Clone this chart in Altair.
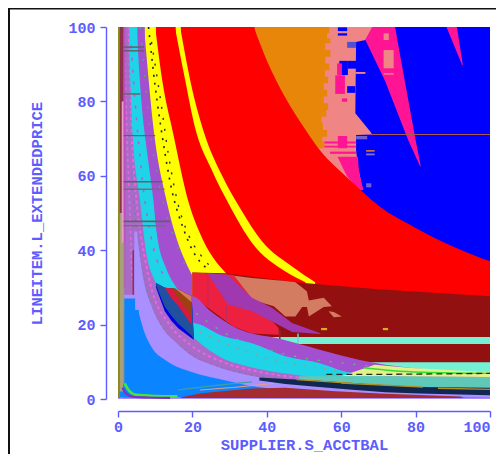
import altair as alt
import pandas as pd

AX = "#5c5cff"
DOM = [0, 100]
tick_vals = [0, 20, 40, 60, 80, 100]
axis_common = dict(
    values=tick_vals, format="d", offset=12, grid=False, labelFlush=False, labelOverlap=False,
    domainColor=AX, tickColor=AX, labelColor=AX, titleColor=AX,
    tickSize=6, domainWidth=1.4, tickWidth=1.4,
    labelFont="Liberation Mono", labelFontSize=15, labelFontWeight="bold",
    titleFont="Liberation Mono", titleFontSize=15.5, titleFontWeight="bold",
)
XAXIS = alt.Axis(title="SUPPLIER.S_ACCTBAL", labelPadding=2, titlePadding=3,
                 labelAlign=alt.expr("datum.value == 100 ? 'right' : 'center'"), **axis_common)
YAXIS = alt.Axis(title="LINEITEM.L_EXTENDEDPRICE", labelPadding=5, titlePadding=23, **axis_common)
X = lambda: alt.X("x:Q", scale=alt.Scale(domain=DOM, nice=False), axis=XAXIS)
Y = lambda: alt.Y("y:Q", scale=alt.Scale(domain=DOM, nice=False), axis=YAXIS)

layers = []

def band(xs, top, bottom, color, interp="linear"):
    if not isinstance(bottom, list):
        bottom = [bottom] * len(xs)
    df = pd.DataFrame({"x": xs, "y": top, "y2": bottom})
    layers.append(alt.Chart(df).mark_area(color=color, interpolate=interp, clip=True).encode(
        x=X(), y=Y(), y2=alt.Y2("y2:Q")))

def hband(ys, left, right, color, interp="linear"):
    if not isinstance(left, list):
        left = [left] * len(ys)
    df = pd.DataFrame({"y": ys, "x": left, "x2": right})
    layers.append(alt.Chart(df).mark_area(color=color, orient="horizontal", interpolate=interp, clip=True).encode(
        y=Y(), x=X(), x2=alt.X2("x2:Q")))

def rects(rows):
    df = pd.DataFrame(rows, columns=["x", "x2", "y", "y2", "c"])
    layers.append(alt.Chart(df).mark_rect(clip=True).encode(
        x=X(), x2=alt.X2("x2:Q"), y=Y(), y2=alt.Y2("y2:Q"), color=alt.Color("c:N", scale=None, legend=None)))

def fan(xs, ys, color, bottom=0):
    if xs[0] > 0:
        rects([[0, xs[0] + 0.2, ys[0], bottom, color]])
    band(xs, ys, bottom, color, "monotone")

def curve(xs, ys, color, width=2.0, dash=None):
    df = pd.DataFrame({"x": xs, "y": ys})
    kw = {"strokeDash": dash} if dash else {}
    layers.append(alt.Chart(df).mark_line(color=color, strokeWidth=width, clip=True, interpolate="monotone", **kw).encode(x=X(), y=Y()))

# ---------- palette
BLUE, RED, YELLOW = "#0000ff", "#ff0000", "#ffff00"
ORANGE, SALMON, PINK = "#e8860a", "#f08585", "#ff1493"
DARKRED, MINT, BROWNSAL = "#931010", "#74f0d4", "#d47c62"
CRIMSON, PURPLE, CYAN = "#ee2040", "#a24fd0", "#20d4e8"
MOTTLE, LILAC, AZURE = "#a86cc8", "#a98fff", "#0a84ff"

# ---------- upper right regions
full_x = [0, 100]
full_top = [100, 100]

salmon_y = [100, 99.6, 96.5, 96, 76.8, 71.9, 71.1, 71, 66.9, 62.5, 56.2]
salmon_r = [68.3, 68.3, 66.5, 64, 63.8, 67.8, 68.3, 64, 64, 64.5, 65.8]

spike_a_y = [100, 96.5, 85.5, 69.6, 62.6]
spike_a_l = [68.3, 66.5, 71.8, 78, 81.2]
spike_a_r = [74.5, 75.1, 77.1, 80, 81.4]
spike_b_y = [100, 89.8]
spike_b_l = [88.3, 92.5]
spike_b_r = [91.1, 92.7]

orange_y = [100, 98.3, 97, 95.6, 93.8, 92, 90.2, 88.4, 86.6, 84.9, 83.1, 81.3, 79.5, 77.7, 75.9, 74.1, 72.3, 70.5, 69.2, 67.4]
orange_r = [56.2, 56.8, 56.2, 57.1, 55.7, 57.1, 55.7, 56.8, 55.6, 56.5, 55.3, 56.2, 55.3, 56.5, 56, 54.7, 55.1, 56.2, 54.9, 55.5]

pink_low_y = [65.1, 62, 60, 58, 56.2]
pink_low_l = [59, 60.5, 61.5, 63, 65]
pink_low_r = [64.5, 64.7, 65, 65.5, 66]

patches = [
    [59.1, 61.6, 99.9, 98.9, BLUE], [59.1, 61.6, 98.3, 97.7, BLUE],
    [61.6, 64, 96, 94.4, "#5050d0"], [59.5, 61.8, 90.9, 87.1, BLUE],
    [61.8, 64, 90.9, 88.8, BLUE], [61.6, 63.8, 84.1, 82.3, BLUE],
    [58.9, 60.2, 90.2, 87.1, PINK], [58.4, 61, 87, 82, PINK],
    [60.2, 61.6, 80.8, 79.9, PINK], [63.8, 66.5, 87.9, 87.4, SALMON],
    [71.4, 72.8, 98.3, 96.5, SALMON], [71.4, 74.1, 93.8, 88.9, SALMON],
    [71.4, 74.1, 87.6, 87.2, SALMON], [64, 67, 70.7, 69.8, "#7060d0"],
    [59.1, 61.6, 70.7, 67.4, PINK], [55.5, 64, 69.2, 68.7, PINK],
    [55.5, 64, 68.1, 67.6, PINK], [57, 64, 66.5, 65.9, PINK],
    [66.7, 69, 66.9, 66.5, ORANGE], [66.7, 69, 66, 65.5, "#8070d0"],
    [66.7, 68.1, 58, 56.9, "#7060d0"],
]

band(full_x, full_top, 0, BLUE)
hband(salmon_y, 40, salmon_r, SALMON)
hband(spike_a_y, spike_a_l, spike_a_r, PINK)
hband(spike_b_y, spike_b_l, spike_b_r, PINK)
hband(orange_y, 30, orange_r, ORANGE, "step-after")
hband(pink_low_y, pink_low_l, pink_low_r, PINK)
rects(patches)
rects([[68, 100, 71.25, 70.95, "#a85a50"]])

# ---------- red + yellow hyperbolas
red_x = [36.5, 40, 45, 50, 55, 60, 65, 70, 80, 90, 100]
red_y = [100, 91, 81, 73, 66, 61, 56.4, 52, 46, 41, 37]
fan(red_x, red_y, RED)

y1o_x = [16.7, 20, 23, 28, 33, 38.7, 47, 53]
y1o_y = [100, 83, 72, 60, 51, 42.4, 35.5, 31.4]
y1i_x = [15.3, 18, 20.7, 25, 30, 36, 45, 50.4]
y1i_y = [100, 86, 73, 62, 52, 42, 34.3, 31.4]
fan(y1o_x, y1o_y, YELLOW)
fan(y1i_x, y1i_y, RED)

y2o_x = [10, 12, 14.8, 18.8, 22, 29.3]
y2o_y = [100, 85, 71.5, 53.5, 44.6, 33.5]
fan(y2o_x, y2o_y, YELLOW)

dots_a_x = [8.2, 10, 12, 14.5, 17.5, 20, 24]
dots_a_y = [100, 84, 70, 56, 46, 40, 35]
dots_b_x = [9, 11.5, 13.5, 16, 19, 22, 26]
dots_b_y = [96, 80, 66, 53, 44, 39, 34.5]
curve(dots_a_x, dots_a_y, "#222222", 1.6, [2, 6])
curve(dots_b_x, dots_b_y, "#303030", 1.4, [2, 9])

# ---------- lower right block
dark_x = [20, 29, 47.7, 70, 100]
dark_top = [34, 33.8, 31.4, 29.5, 27.6]
band(dark_x, dark_top, 0, DARKRED)

rects([[40, 100, 16.7, 14.8, MINT], [50, 100, 9.9, 7.0, MINT]])

sal_x = [29.2, 36, 41.9, 45, 47.7, 49.5, 50.8, 51.3, 55.3, 57.5]
sal_top = [33.4, 32.5, 32, 31.7, 31.4, 30, 28.9, 26.5, 27.2, 24.9]
sal_bot = [33.4, 26.7, 24.9, 22.2, 22.2, 24.7, 24.7, 22.2, 24.7, 24.9]
band(sal_x, sal_top, sal_bot, BROWNSAL)
band([56.6, 58, 60.2], [23.6, 23.4, 22.2], [23.6, 22, 22.2], BROWNSAL)
rects([[54.6, 56.2, 19.1, 18.5, "#d0b020"], [71.2, 72.6, 19.1, 18.5, "#d0b020"]])

crim_x = [20, 31, 36, 43.2]
crim_top = [34, 33.4, 27, 19]
crim_bot = [27.6, 19.5, 17.6, 17.3]
band(crim_x, crim_top, crim_bot, CRIMSON)

streak_x = [24.3, 29.5, 36, 41.4, 46.8, 54.4]
streak_top = [33.8, 33.4, 27.2, 24.5, 20.4, 17.7]
streak_bot = [33.4, 25.5, 23.6, 20.8, 18, 17.5]
band(streak_x, streak_top, streak_bot, "#a038b0")
rects([[24, 24.3, 33.5, 25, "#c02860"], [29, 29.3, 25, 20, "#c02860"],
       [43.3, 43.7, 18.5, 15.2, "#7a3040"], [48.2, 48.6, 17.6, 14.8, "#70d0d0"]])

# ---------- purple / cyan / mottled / lilac / azure fans
purple_x = [7, 9.7, 13, 15.3, 19.9]
purple_y = [100, 71.5, 53.5, 44.6, 33.3]
fan(purple_x, purple_y, PURPLE)
purple2_x = [19.9, 20, 25, 31, 36, 42, 54, 65, 79, 90, 100]
purple2_y = [27.6, 27.6, 23.5, 19.5, 17.6, 16.5, 13.3, 10.5, 8.3, 7.4, 6.8]
band(purple2_x, purple2_y, 0, PURPLE, "monotone")

green_a_x = [6, 8, 11, 14.5, 18]
green_a_y = [100, 78, 58, 45, 36]
curve(green_a_x, green_a_y, "#4cb060", 1.4, [2, 14])
green_b_x = [21, 30, 38, 50, 62, 75]
green_b_y = [23, 17, 14, 11, 9.5, 8]
curve(green_b_x, green_b_y, "#58c070", 1.4, [2, 10])

cyan_x = [5, 6.3, 8, 9.5, 10.4, 13, 15.8, 19.9]
cyan_y = [100, 80, 65, 53.5, 44.6, 35, 29.8, 24]
fan(cyan_x, cyan_y, CYAN)
cyan2_x = [19.9, 20, 28, 36, 45, 54, 61, 72, 85, 100]
cyan2_y = [20.4, 20.4, 17, 15, 11.5, 9.7, 7.4, 6, 4.5, 3]
band(cyan2_x, cyan2_y, 0, CYAN, "monotone")

green_c_x = [3.5, 5, 7, 9, 13]
green_c_y = [95, 75, 55, 43, 32]
curve(green_c_x, green_c_y, "#b060d0", 1.6, [3, 9])
green_d_x = [22, 30, 40, 50, 60]
green_d_y = [18, 14.5, 11, 9, 7.5]
curve(green_d_x, green_d_y, "#90a090", 1.6, [2, 8])

mottle_x = [2.8, 4, 5.9, 7.5, 10.2, 15, 21, 28, 36, 50, 70, 100]
mottle_y = [100, 70, 53.5, 40, 31, 22, 15.9, 11, 8.5, 6.2, 3.5, 2]
fan(mottle_x, mottle_y, MOTTLE)

pink_a_x = [2.6, 3.6, 5.2, 7.2, 9.2, 13.5, 19.5, 28, 38, 50]
pink_a_y = [100, 72, 51, 38, 29, 20.5, 14.5, 10, 7.3, 5.6]
curve(pink_a_x, pink_a_y, "#f060e8", 2.0, [3, 3])
pink_b_x = [2.2, 3.2, 4.6, 6.4, 8.3, 12.5, 18, 26, 36, 48]
pink_b_y = [100, 70, 49, 35.5, 27, 18.5, 13, 9, 6.5, 4.9]
curve(pink_b_x, pink_b_y, "#7a78b8", 1.8, [2, 4])

lens_x = [10.2, 12.6, 14.4, 16.2, 19.8, 20.4]
lens_top = [31.2, 29.9, 29.7, 29.5, 27.6, 15.9]
lens_bot = [30, 23.5, 21, 19, 16.3, 15.9]
lens_bot2 = [30.6, 24.8, 22.3, 20.2, 17, 16]
band(lens_x, lens_top, lens_bot, "#0000e8")
band(lens_x, lens_top, lens_bot2, "#2050a0")
band([12.6, 14.4, 16.2, 19.8], [29.9, 29.8, 29.5, 27.6], [29.9, 27, 25, 19.9], "#d81840")
band([14.4, 16.2, 19.8], [29.8, 29.5, 27.6], [29.8, 27, 22.1], "#a04010")
band([15.5, 16.2, 19.8], [29.6, 29.5, 27.6], [29.6, 29, 26], "#d07c60")

lilac_x = [5, 6.9, 9, 12, 15.8, 20, 25, 36, 50, 70, 100]
lilac_y = [45, 31.9, 25, 19, 15, 11.5, 9.3, 6.2, 4.5, 3, 2]
fan(lilac_x, lilac_y, LILAC)

# columns above the lilac fan, left of it
upper_mottle_y = [100, 70, 50, 45, 28]
upper_mottle_r = [2.6, 3.4, 4.2, 4.4, 4.4]
hband(upper_mottle_y, 1.5, upper_mottle_r, MOTTLE)
curve([1.7, 2.3, 3, 3.8], [100, 75, 55, 32], "#f060e8", 1.6, [3, 3])

azure_x = [5.4, 6.9, 9, 13, 20, 26.6, 36, 45, 60, 100]
azure_y = [23.9, 18.5, 14, 10.3, 7.2, 5.5, 3.5, 2.5, 1.5, 0.5]
fan(azure_x, azure_y, AZURE, 0.4)
rects([[1.5, 4.6, 27, 0.4, AZURE]])

rects([[3.9, 4.3, 40, 28, "#a02850"]])

# ---------- bottom strips
stripe_x = [60, 69, 79, 100]
stripe_top = [6.1, 9.2, 8.3, 7.2]
stripe_bot = [6.1, 6.1, 6, 5.9]
band(stripe_x, stripe_top, stripe_bot, "#e4f08c")
curve([66, 74, 82, 100], [8.4, 7.6, 7.2, 6.9], "#30e030", 1.4)
curve([56, 66, 80, 100], [6.6, 6.6, 6.7, 6.9], "#203020", 1.3, [6, 4])

teal_x = [48.6, 72, 100]
teal_top = [6.1, 6.1, 5.9]
teal_bot = [4.8, 3.6, 2.8]
band(teal_x, teal_top, teal_bot, "#60c8b8")

navy_x = [38, 45, 54, 63, 71.9, 81, 100]
navy_top = [5.8, 5.4, 4.9, 4.3, 3.7, 3.2, 3]
navy_bot = [5, 4, 3.2, 2.5, 1.8, 1.5, 1]
band(navy_x, navy_top, navy_bot, "#102850")

curve([48, 63], [5.2, 4.2], "#b09020", 1.4)
curve([60, 82], [4.3, 3.2], "#b09020", 1.4)
curve([86, 100], [2.9, 2.6], "#b09020", 1.4)

brown_x = [17, 22, 30, 36, 45, 58.4, 71.9, 92, 93]
brown_top = [0.5, 1.5, 2.3, 2.8, 3, 2.1, 1.4, 0.7, 0.3]
band(brown_x, brown_top, 0.3, "#a42c30")
curve([16, 24, 36], [2.4, 3.4, 4.6], "#40a0a0", 1.2)
curve([22, 32, 42], [2.4, 3.2, 4.2], "#e8a080", 1.0)

# ---------- left edge columns
columns = [
    [0, 0.5, 100, 0.3, "#8a8a20"], [0.5, 1.5, 100, 50, "#903050"],
    [0.5, 1.4, 50, 2, "#a8a078"], [1.5, 2.0, 100, 30, "#c050c0"],
    [1.0, 1.5, 80, 42, "#e0a0c0"], [1.4, 1.7, 42, 4, "#90a090"],
]
rects(columns)

streak_rows = [
    [1.5, 7, 94.8, 94.4, "#606068"], [1.5, 7, 93.8, 93.4, "#606068"],
    [1.5, 6, 82.2, 81.8, "#606868"], [1.5, 10, 71, 70.6, "#606068"],
    [1.5, 12, 58.6, 58.2, "#606068"], [1.5, 12.5, 56.6, 56.2, "#707078"],
    [1.5, 14, 48, 47.5, "#606068"], [1.5, 13, 46.8, 46.4, "#707078"],
]
rects(streak_rows)

bl_green_x = [1.8, 3, 5, 10, 16]
bl_green_y = [4.2, 2.2, 1.1, 0.8, 0.7]
curve(bl_green_x, bl_green_y, "#44e83c", 2.6)
bl_purple_x = [1.2, 2.2, 4, 8, 14]
bl_purple_y = [3, 1.4, 0.6, 0.4, 0.3]
curve(bl_purple_x, bl_purple_y, "#8030c0", 2.2)

# ---------- frame
frame_src = pd.DataFrame({"a": [0]})
frame_left = alt.Chart(frame_src).mark_rule(color="#111111", strokeWidth=2).encode(
    x=alt.value(-109), y=alt.value(-19), y2=alt.value(440))
frame_top = alt.Chart(frame_src).mark_rule(color="#111111", strokeWidth=2).encode(
    x=alt.value(-110), x2=alt.value(378), y=alt.value(-18.5))

chart = alt.layer(*layers, frame_left, frame_top).properties(
    width=372, height=372,
    autosize=alt.AutoSizeParams(type="none"),
    padding={"left": 110, "top": 19, "right": 6, "bottom": 55},
    background="white",
).configure_view(stroke=None)

chart.save("out.html", embed_options={"renderer": "svg", "actions": False})
